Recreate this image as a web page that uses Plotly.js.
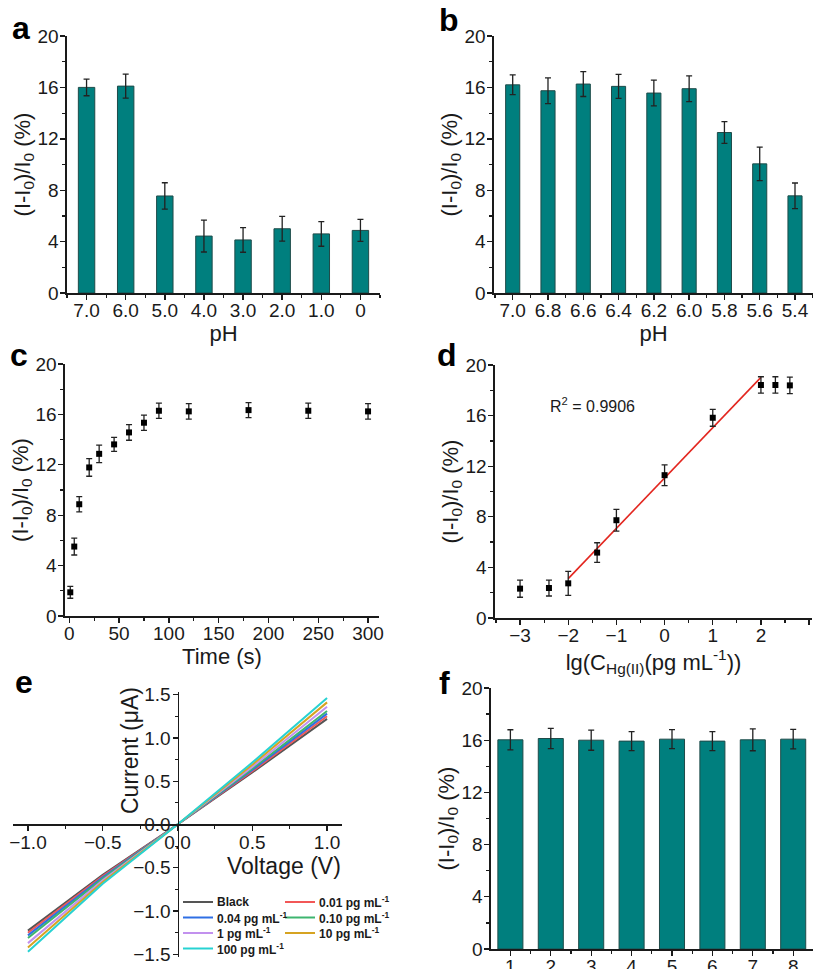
<!DOCTYPE html>
<html><head><meta charset="utf-8">
<script src="https://cdn.plot.ly/plotly-3.0.1.min.js"></script>
<style>html,body{margin:0;padding:0;background:#fff}#chart{width:813px;height:969px}</style>
</head><body><div id="chart"></div>
<script>
// ---------- Panel a : pH 7.0 -> 0 ----------
const phA = ['7.0','6.0','5.0','4.0','3.0','2.0','1.0','0'];
const valA = [16.0, 16.1, 7.55, 4.43, 4.13, 5.0, 4.6, 4.87];
const errA = [0.65, 0.93, 1.03, 1.24, 0.96, 0.96, 0.96, 0.86];
// ---------- Panel b : pH 7.0 -> 5.4 ----------
const phB = ['7.0','6.8','6.6','6.4','6.2','6.0','5.8','5.6','5.4'];
const valB = [16.2, 15.74, 16.26, 16.08, 15.56, 15.9, 12.49, 10.05, 7.56];
const errB = [0.77, 1.0, 0.97, 0.94, 1.0, 1.0, 0.84, 1.3, 1.0];
// ---------- Panel c : time ----------
const timeC = [1, 5, 10, 20, 30, 45, 60, 75, 90, 120, 180, 240, 300];
const valC = [1.88, 5.51, 8.87, 11.79, 12.87, 13.62, 14.57, 15.34, 16.29, 16.24, 16.34, 16.29, 16.24];
const errC = [0.47, 0.67, 0.6, 0.7, 0.69, 0.56, 0.62, 0.61, 0.61, 0.62, 0.6, 0.6, 0.62];
// ---------- Panel d : concentration ----------
const lgD = [-3, -2.4, -2, -1.4, -1, 0, 1, 2, 2.3, 2.6];
const valD = [2.32, 2.37, 2.74, 5.17, 7.73, 11.29, 15.83, 18.42, 18.42, 18.39];
const errD = [0.68, 0.63, 0.95, 0.78, 0.86, 0.82, 0.67, 0.65, 0.65, 0.65];
const fitX = [-2, 2];
const fitY = [3.11, 19.02];
const r2Label = 'R<sup>2</sup> = 0.9906';
// ---------- Panel e : I-V curves ----------
const voltE = [-1, -0.5, 0, 0.5, 1];
const curBlack = [-1.225, -0.58, 0, 0.60, 1.22];
const cur001 = [-1.25, -0.595, 0, 0.615, 1.25];
const cur004 = [-1.28, -0.61, 0, 0.63, 1.28];
const cur010 = [-1.31, -0.625, 0, 0.645, 1.31];
const cur1 = [-1.37, -0.645, 0, 0.665, 1.36];
const cur10 = [-1.42, -0.665, 0, 0.69, 1.41];
const cur100 = [-1.47, -0.685, 0, 0.715, 1.46];
const namesE = ['Black', '0.01 pg mL<sup>-1</sup>', '0.04 pg mL<sup>-1</sup>', '0.10 pg mL<sup>-1</sup>', '1 pg mL<sup>-1</sup>', '10 pg mL<sup>-1</sup>', '100 pg mL<sup>-1</sup>'];
const seriesE = [curBlack, cur001, cur004, cur010, cur1, cur10, cur100];
const colorsE = ['#555555', '#f25757', '#2f6fe4', '#3db56f', '#c291ee', '#d6a321', '#27d2d2'];
// ---------- Panel f : repeatability ----------
const runF = ['1','2','3','4','5','6','7','8'];
const valF = [16.03, 16.13, 16.0, 15.93, 16.08, 15.93, 16.03, 16.08];
const errF = [0.77, 0.77, 0.77, 0.73, 0.73, 0.73, 0.84, 0.75];

const W = 813, H = 969;
const px = v => v / W;
const py = v => 1 - v / H;
const INK = '#1a1a1a';
const TEAL = '#007f7e';
const FONT = 'Arial, "Liberation Sans", sans-serif';
const TICK = 19, TITLE = 22;
const yTitle = '(I-I<sub>0</sub>)/I<sub>0</sub> (%)';

function axis(o) {
  const base = {
    showline: true, linecolor: INK, linewidth: 1.6, mirror: false,
    ticks: 'outside', ticklen: 5, tickwidth: 1.4, tickcolor: INK,
    showgrid: false, zeroline: false, fixedrange: true,
    tickfont: {size: TICK, color: INK, family: FONT}
  };
  const r = Object.assign(base, o);
  if (o.title) r.title = Object.assign({font: {size: TITLE, color: INK, family: FONT}}, o.title);
  return r;
}
function xax(o) { return axis(Object.assign({ticklabelstandoff: -5}, o)); }
function yax(o) { return axis(Object.assign({ticklabelstandoff: -2}, o)); }
function minor(d) { return {dtick: d, ticks: 'outside', ticklen: 3, tickwidth: 1.2, tickcolor: INK}; }
function errs(a, w) { return {type: 'data', array: a, visible: true, color: '#222', thickness: 1.3, width: w}; }
const idx = arr => arr.map((_, i) => i);

const traces = [
  {type: 'bar', x: idx(phA), y: valA, width: 0.42, xaxis: 'x', yaxis: 'y',
   marker: {color: TEAL, line: {color: '#1f4b49', width: 1}}, error_y: errs(errA, 3)},
  {type: 'bar', x: idx(phB), y: valB, width: 0.40, xaxis: 'x2', yaxis: 'y2',
   marker: {color: TEAL, line: {color: '#1f4b49', width: 1}}, error_y: errs(errB, 3)},
  {type: 'scatter', mode: 'markers', x: timeC, y: valC, xaxis: 'x3', yaxis: 'y3',
   marker: {symbol: 'square', size: 6, color: '#000'}, error_y: errs(errC, 3)},
  {type: 'scatter', mode: 'lines', x: fitX, y: fitY, xaxis: 'x4', yaxis: 'y4',
   line: {color: '#e3261f', width: 1.6}},
  {type: 'scatter', mode: 'markers', x: lgD, y: valD, xaxis: 'x4', yaxis: 'y4',
   marker: {symbol: 'square', size: 6, color: '#000'}, error_y: errs(errD, 3)},
  {type: 'bar', x: runF.map(Number), y: valF, width: 0.62, xaxis: 'x6', yaxis: 'y6',
   marker: {color: TEAL, line: {color: '#1f4b49', width: 1}}, error_y: errs(errF, 3)}
];
seriesE.forEach((s, i) => traces.push({type: 'scatter', mode: 'lines', x: voltE, y: s, name: namesE[i],
  xaxis: 'x5', yaxis: 'y5', line: {color: colorsE[i], width: 2}}));

const layout = {
  width: W, height: H, margin: {l: 0, r: 0, t: 0, b: 0},
  paper_bgcolor: '#fff', plot_bgcolor: 'rgba(0,0,0,0)', showlegend: false,
  font: {family: FONT, color: INK},
  // a
  xaxis: xax({domain: [px(67), px(380)], anchor: 'y', range: [-0.5, 7.5], tickvals: idx(phA), ticktext: phA,
    minor: minor(0.5), title: {text: 'pH', standoff: 0}}),
  yaxis: yax({domain: [py(293), py(36)], anchor: 'x', range: [0, 20], dtick: 4, minor: minor(2),
    title: {text: yTitle, standoff: 0}}),
  // b
  xaxis2: xax({domain: [px(494), px(813)], anchor: 'y2', range: [-0.53, 8.51], tickvals: idx(phB), ticktext: phB,
    minor: minor(0.5), title: {text: 'pH', standoff: 0}}),
  yaxis2: yax({domain: [py(293), py(36)], anchor: 'x2', range: [0, 20], dtick: 4, minor: minor(2),
    title: {text: yTitle, standoff: 0}}),
  // c
  xaxis3: xax({domain: [px(65), px(379)], anchor: 'y3', range: [-4.3, 311], dtick: 50, minor: minor(25),
    title: {text: 'Time (s)', standoff: 0}}),
  yaxis3: yax({domain: [py(616), py(364)], anchor: 'x3', range: [0, 20], dtick: 4, minor: minor(2),
    title: {text: yTitle, standoff: 0}}),
  // d
  xaxis4: xax({domain: [px(495), px(812)], anchor: 'y4', range: [-3.52, 3.06], dtick: 1, minor: minor(0.5),
    title: {text: 'lg(C<sub>Hg(II)</sub>(pg mL<sup>-1</sup>))', standoff: 0}}),
  yaxis4: yax({domain: [py(618), py(365)], anchor: 'x4', range: [0, 20], dtick: 4, minor: minor(2),
    title: {text: yTitle, standoff: 0}}),
  // e
  xaxis5: xax({domain: [px(13), px(342)], anchor: 'free', position: py(824), range: [-1.1, 1.1],
    dtick: 0.5, tickformat: '.1f', minor: minor(0.25), ticklabelstandoff: -4}),
  yaxis5: yax({domain: [py(957), py(692)], anchor: 'free', position: px(177.5), range: [-1.53, 1.53],
    dtick: 0.5, tickformat: '.1f', minor: minor(0.25)}),
  // f
  xaxis6: xax({domain: [px(491), px(813)], anchor: 'y6', range: [0.52, 8.49], tickvals: runF.map(Number), ticktext: runF,
    minor: minor(0.5)}),
  yaxis6: yax({domain: [py(949), py(688)], anchor: 'x6', range: [0, 20], dtick: 4, minor: minor(2),
    title: {text: yTitle, standoff: 0}}),
  annotations: [],
  shapes: []
};

// panel letters
[['a', 21, 28], ['b', 449, 20], ['c', 19, 355], ['d', 447, 355], ['e', 24, 682], ['f', 444, 683]].forEach(p => {
  layout.annotations.push({text: '<b>' + p[0] + '</b>', xref: 'paper', yref: 'paper', x: px(p[1]), y: py(p[2]),
    xanchor: 'center', yanchor: 'middle', showarrow: false, font: {size: 32, color: '#000', family: FONT}});
});
// R^2 label in d
layout.annotations.push({text: r2Label, xref: 'paper', yref: 'paper', x: px(548), y: py(405),
  xanchor: 'left', yanchor: 'middle', showarrow: false, font: {size: 16, color: INK, family: FONT}});
// axis titles of e, placed inside the plot like the original
layout.annotations.push({text: 'Voltage (V)', xref: 'paper', yref: 'paper', x: px(284), y: py(866),
  xanchor: 'center', yanchor: 'middle', showarrow: false, font: {size: 23, color: INK, family: FONT}});
layout.annotations.push({text: 'Current (μA)', xref: 'paper', yref: 'paper', x: px(130), y: py(751),
  xanchor: 'center', yanchor: 'middle', textangle: -90, showarrow: false, font: {size: 23, color: INK, family: FONT}});
// legend of e (two columns)
const legCols = [183, 285], legRows = [902, 917.5, 933, 948.5];
namesE.forEach((n, i) => {
  const x0 = legCols[i % 2], y0 = legRows[Math.floor(i / 2)];
  layout.shapes.push({type: 'line', xref: 'paper', yref: 'paper', x0: px(x0), x1: px(x0 + 30), y0: py(y0), y1: py(y0),
    line: {color: colorsE[i], width: 2}});
  layout.annotations.push({text: '<b>' + n + '</b>', xref: 'paper', yref: 'paper', x: px(x0 + 32), y: py(y0),
    xanchor: 'left', yanchor: 'middle', showarrow: false, font: {size: 12, color: INK, family: FONT}});
});

Plotly.newPlot('chart', traces, layout, {staticPlot: true, displayModeBar: false});
</script></body></html>
